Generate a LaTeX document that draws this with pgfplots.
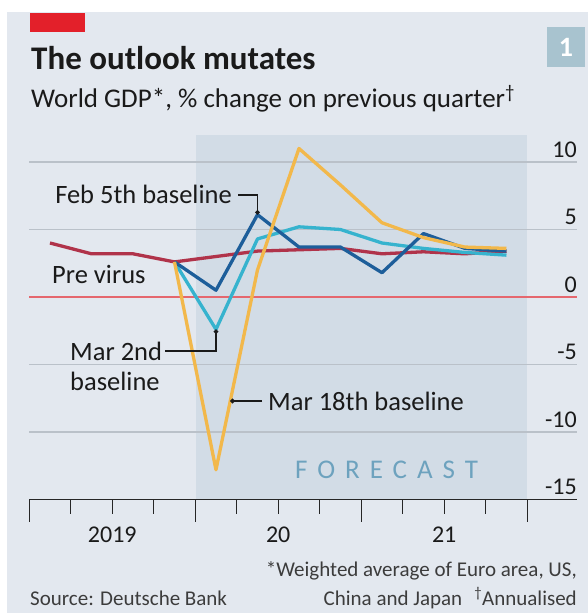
\documentclass[border=0pt]{standalone}
\usepackage{fontspec}
\setmainfont{Carlito}
\usepackage{pgfplots}
\pgfplotsset{compat=1.18}
\usetikzlibrary{arrows.meta}

\definecolor{panel}{HTML}{E3E8EF}
\definecolor{fcast}{HTML}{D2DCE6}
\definecolor{gridc}{HTML}{BAC1C9}
\definecolor{previr}{HTML}{B0334A}
\definecolor{feb}{HTML}{1D5E9A}
\definecolor{mar2}{HTML}{36B3CE}
\definecolor{mar18}{HTML}{F2B84B}
\definecolor{zeroc}{HTML}{E5676E}
\definecolor{ecored}{HTML}{E3202A}
\definecolor{boxc}{HTML}{A8C3CF}
\definecolor{fctext}{HTML}{6DA2BE}
\definecolor{ink}{HTML}{1A1A1A}

\newcommand\fs[1]{\fontsize{#1bp}{#1bp}\selectfont}
\tikzset{
  ylab/.style={anchor=base east, inner sep=0pt, yshift=5bp, text=ink, font=\fs{24}},
  xlab/.style={anchor=base, inner sep=0pt, yshift=-43bp, text=ink, font=\fs{24}},
  lead/.style={draw=ink, line width=1.5bp, -{Circle[length=4.5bp]}},
}

\begin{document}
\begin{tikzpicture}
% panel, header and forecast band (pixel coordinates, y down)
\begin{scope}[x=1bp,y=-1bp]
  \fill[white] (0,0) rectangle (588,613);
  \fill[panel] (7,12) rectangle (588,613);
  \fill[ecored] (30,13) rectangle (85,32);
  \fill[boxc] (547,27) rectangle (585,67);
  \node[text=white, font=\bfseries\fs{28}] at (566,47) {1};
  \node[anchor=base west, inner sep=0pt, text=ink, font=\bfseries\fs{33}] at (31,69) {The outlook mutates};
  \node[anchor=base west, inner sep=0pt, text=ink, font=\fs{27}] at (31,107) {World GDP*, \% change on previous quarter\textsuperscript{†}};
  \fill[fcast] (195.5,135) rectangle (527,499.5);
\end{scope}

\begin{axis}[
  at={(29.25bp,-499.5bp)}, anchor=south west,
  scale only axis, width=547.75bp, height=364.5bp,
  xmin=-0.5, xmax=12.7, ymin=-15, ymax=12,
  clip=false,
  axis line style={draw=none},
  ytick={-15,-10,-5,0,5,10},
  yticklabels={},
  ymajorgrids,
  grid style={gridc, line width=1.4bp},
  ytick style={draw=none},
  xtick={-0.5,3.5,7.5,11.5},
  minor xtick={0.5,1.5,2.5,4.5,5.5,6.5,8.5,9.5,10.5},
  xticklabels={},
  xtick pos=bottom,
  tick align=outside,
  major tick length=22bp, minor tick length=14bp,
  xtick style={draw=black!85, line width=1.4bp},
  every axis plot/.append style={line width=3.3bp, line join=round, no markers},
]
\draw[zeroc, line width=1.4bp] (axis cs:-0.5,0) -- (axis cs:12.7,0);
\draw[black!85, line width=1.4bp] (axis cs:-0.5,-15) -- (axis cs:12.7,-15);

% Pre virus
\addplot[previr] coordinates {(0,4.0) (1,3.2) (2,3.2) (3,2.6) (4,3.0) (5,3.4) (6,3.5) (7,3.6) (8,3.2) (9,3.35) (10,3.2) (11,3.4)};
% Mar 2nd baseline
\addplot[mar2] coordinates {(3,2.6) (4,-2.4) (5,4.3) (6,5.2) (7,5.0) (8,4.0) (9,3.6) (10,3.3) (11,3.1)};
% Feb 5th baseline
\addplot[feb] coordinates {(3,2.6) (4,0.5) (5,6.1) (6,3.7) (7,3.7) (8,1.8) (9,4.7) (10,3.6) (11,3.4)};
% Mar 18th baseline
\addplot[mar18] coordinates {(3,2.6) (4,-12.8) (5,2.0) (6,11.0) (7,8.3) (8,5.5) (9,4.4) (10,3.7) (11,3.6)};

% y labels sit above the gridlines, right-aligned
\node[ylab] at (axis cs:12.7,10) {10};
\node[ylab] at (axis cs:12.7,5) {5};
\node[ylab] at (axis cs:12.7,0) {0};
\node[ylab] at (axis cs:12.7,-5) {-5};
\node[ylab] at (axis cs:12.7,-10) {-10};
\node[ylab] at (axis cs:12.7,-15) {-15};

\node[xlab] at (axis cs:1.5,-15) {2019};
\node[xlab] at (axis cs:5.5,-15) {20};
\node[xlab] at (axis cs:9.5,-15) {21};
\end{axis}

% annotations and footer
\begin{scope}[x=1bp,y=-1bp]
  \node[anchor=base east, inner sep=0pt, text=ink, font=\fs{26.5}] at (232,203) {Feb 5th baseline};
  \draw[lead] (238,195) -- (257.5,195) -- (257.5,214.6);
  \node[anchor=base west, inner sep=0pt, text=ink, font=\fs{26.5}] at (52,283) {Pre virus};
  \node[anchor=base west, inner sep=0pt, text=ink, font=\fs{26.5}] at (70,360) {Mar 2nd};
  \node[anchor=base west, inner sep=0pt, text=ink, font=\fs{26.5}] at (70,390) {baseline};
  \draw[lead] (165,351) -- (216,351) -- (216,329.4);
  \node[anchor=base west, inner sep=0pt, text=ink, font=\fs{26.5}] at (268,410) {Mar 18th baseline};
  \draw[lead] (262,401) -- (230.3,401);
  \node[anchor=base west, inner sep=0pt, text=fctext, font=\fs{27}\addfontfeature{LetterSpace=37}] at (295,478) {FORECAST};
  \node[anchor=base west, inner sep=0pt, text=ink!85, font=\fs{21}] at (30,605) {Source: Deutsche Bank};
  \node[anchor=base east, inner sep=0pt, text=ink!85, font=\fs{21}] at (577,576) {*Weighted average of Euro area, US,};
  \node[anchor=base east, inner sep=0pt, text=ink!85, font=\fs{21}] at (577,605) {China and Japan\hspace{12bp}\textsuperscript{†}Annualised};
\end{scope}
\pgfresetboundingbox
\path (0,0) rectangle (588bp,-613bp);
\end{tikzpicture}
\end{document}
